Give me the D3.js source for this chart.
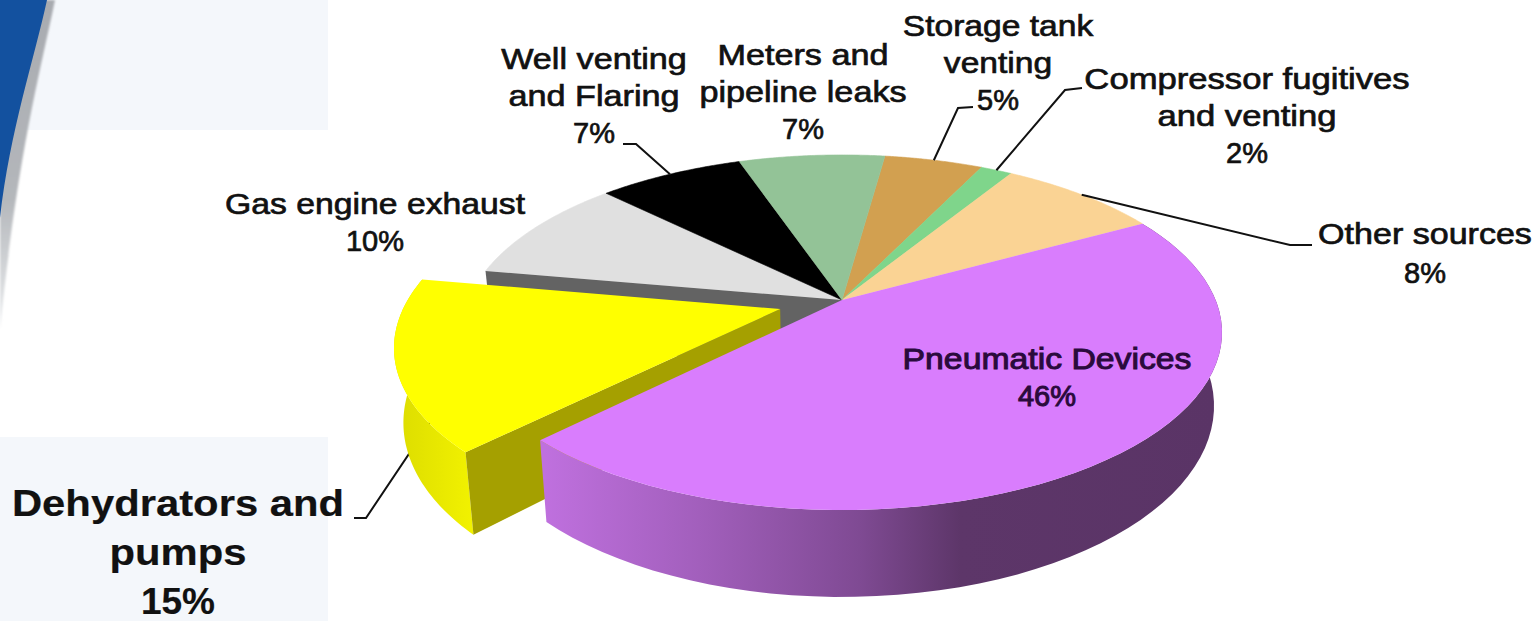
<!DOCTYPE html>
<html>
<head>
<meta charset="utf-8">
<style>
  html, body { margin: 0; padding: 0; background: #fff; overflow: hidden; }
  text { font-family: "Liberation Sans", Arial, sans-serif; text-anchor: middle; }
</style>
<script src="https://d3js.org/d3.v7.min.js"></script>
</head>
<body>
<svg id="chart" width="1538" height="621"></svg>
<script>
// shares, in drawing order clockwise from Storage tank round to Meters
var categories = ["Storage tank venting", "Compressor fugitives and venting", "Other sources",
  "Pneumatic Devices", "Dehydrators and pumps", "Gas engine exhaust", "Well venting and Flaring",
  "Meters and pipeline leaks"];
var shares = [5.0, 1.6, 8.2, 45.5, 15.4, 9.6, 7.4, 7.4];
var topColors = ["#d2a050", "#7fd58b", "#fad394", "#d97dfd", "#ffff00", "#e0e0e0", "#000000", "#93c397"];
var labelLines = [["Storage tank", "venting"], ["Compressor fugitives", "and venting"], ["Other sources"],
  ["Pneumatic Devices"], ["Dehydrators and", "pumps"], ["Gas engine exhaust"], ["Well venting", "and Flaring"],
  ["Meters and", "pipeline leaks"]];

var cx = 842, cy = 300, R = 373.6, ry = 171.6, k = 0.183, H = 71, taper = 0.021;
var startAngle = 7.8 * Math.PI / 180;
var explode = 0.172;

var svg = d3.select("#chart");
var defs = svg.append("defs");

// slide background
svg.append("rect").attr("x", 0).attr("y", 0).attr("width", 328).attr("height", 130).attr("fill", "#f4f7fb");
svg.append("rect").attr("x", 0).attr("y", 437).attr("width", 328).attr("height", 184).attr("fill", "#f4f7fb");
defs.append("filter").attr("id", "soft").append("feGaussianBlur").attr("stdDeviation", 1.3);
var edgeGrad = defs.append("linearGradient").attr("id", "swooshEdge").attr("x1", 0).attr("x2", 0).attr("y1", 0).attr("y2", 1);
edgeGrad.append("stop").attr("offset", 0).attr("stop-color", "#a8abb0");
edgeGrad.append("stop").attr("offset", 0.6).attr("stop-color", "#b4b7bb");
edgeGrad.append("stop").attr("offset", 1).attr("stop-color", "#eceef0");
svg.append("path").attr("d", "M0,0 L55,0 C42,65 18,150 0,330 Z").attr("fill", "url(#swooshEdge)").attr("filter", "url(#soft)");
svg.append("path").attr("d", "M0,0 L47,0 C34,60 10,130 0,218 Z").attr("fill", "#13519f");

var pie = d3.pie().value(function(d) { return d; }).sort(null)
  .startAngle(startAngle).endAngle(startAngle + 2 * Math.PI);
var arcs = pie(shares);

// projects a point of the pie plane (radius r, clockwise angle a from the back), at drop h
function project(a, r, h, off) {
  var X = r * Math.sin(a) + (off ? off[0] : 0);
  var Y = -r * Math.cos(a) + (off ? off[1] : 0);
  var s = 1 / (1 - k * Y);
  return [cx + R * X * s * (1 - taper * h / H), cy + (ry * Y + h) * s];
}

function rim(d, h, off) {
  return d3.range(0, 61).map(function(i) {
    return project(d.startAngle + (d.endAngle - d.startAngle) * i / 60, 1, h, off);
  });
}

var line = d3.line();
function topFace(d, off) {
  return line([project(0, 0, 0, off)].concat(rim(d, 0, off))) + "Z";
}
function outerWall(d, off) {
  return line(rim(d, 0, off).concat(rim(d, H, off).reverse())) + "Z";
}
function radialWall(a, off) {
  return line([project(a, 0, 0, off), project(a, 1, 0, off), project(a, 1, H, off), project(a, 0, H, off)]) + "Z";
}

var purpleGrad = defs.append("linearGradient").attr("id", "purpleWall").attr("gradientUnits", "userSpaceOnUse")
  .attr("x1", 545).attr("x2", 1215).attr("y1", 0).attr("y2", 0);
[[0, "#bf70de"], [0.23, "#a25fbc"], [0.47, "#7f4a93"], [0.62, "#5d3669"], [1, "#5a3466"]].forEach(function(s) {
  purpleGrad.append("stop").attr("offset", s[0]).attr("stop-color", s[1]);
});
var yellowGrad = defs.append("linearGradient").attr("id", "yellowWall").attr("x1", 0).attr("x2", 1).attr("y1", 0).attr("y2", 0);
yellowGrad.append("stop").attr("offset", 0).attr("stop-color", "#dcdc00");
yellowGrad.append("stop").attr("offset", 1).attr("stop-color", "#f2f200");

var iPurple = 3, iYellow = 4, iGray = 5;
function midAngle(d) { return (d.startAngle + d.endAngle) / 2; }
var mid = midAngle(arcs[iYellow]);
var yellowOff = [explode * Math.sin(mid), -explode * Math.cos(mid)];

// back slices first
arcs.forEach(function(d, i) {
  if (i === iPurple || i === iYellow) return;
  svg.append("path").attr("d", topFace(d)).attr("fill", topColors[i])
    .attr("stroke", topColors[i]).attr("stroke-width", 0.6);
});
svg.append("path").attr("d", radialWall(arcs[iGray].startAngle)).attr("fill", "#636363");

// leader of the pulled out slice runs behind it
function leader(pts) {
  svg.append("path").attr("d", line(pts)).attr("fill", "none").attr("stroke", "#111").attr("stroke-width", 2);
}
leader([[354, 518], [366, 518], project(mid, 0.8, 0, yellowOff)]);

svg.append("path").attr("d", outerWall(arcs[iYellow], yellowOff)).attr("fill", "url(#yellowWall)");
svg.append("path").attr("d", radialWall(arcs[iYellow].startAngle, yellowOff)).attr("fill", "#a5a000");
svg.append("path").attr("d", topFace(arcs[iYellow], yellowOff)).attr("fill", topColors[iYellow]);

svg.append("path").attr("d", outerWall(arcs[iPurple])).attr("fill", "url(#purpleWall)");
svg.append("path").attr("d", topFace(arcs[iPurple])).attr("fill", topColors[iPurple]);

// other leaders
leader([[623, 144], [636, 144], project(midAngle(arcs[6]), 1, 0)]);
leader([[973, 107], [958, 108], project(midAngle(arcs[0]), 1, 0)]);
leader([[1082, 88], [1065, 90], project(midAngle(arcs[1]), 1, 0)]);
leader([[1312, 245], [1290, 245], project(midAngle(arcs[2]), 1, 0)]);

// labels: first baseline, line step, size, sideways stretch of the name lines
var labelPos = [
  {x: 998, y: 36, step: 37, size: 30, wide: 1.12},
  {x: 1247, y: 89, step: 37, size: 30, wide: 1.155},
  {x: 1425, y: 244, step: 39, size: 30, wide: 1.135},
  {x: 1047, y: 369, step: 37, size: 30, wide: 1.125},
  {x: 178, y: 516, step: 49, size: 37, wide: 1.13},
  {x: 375, y: 214, step: 37, size: 30, wide: 1.125},
  {x: 594, y: 69, step: 37, size: 30, wide: 1.14},
  {x: 803, y: 65, step: 37, size: 30, wide: 1.14}
];
arcs.forEach(function(d, i) {
  var p = labelPos[i];
  var names = labelLines[i];
  var fill = i === iPurple ? "#2a0a3c" : "#111";
  names.concat([Math.round(d.data) + "%"]).forEach(function(s, j) {
    var sx = j < names.length ? p.wide : 1;
    svg.append("text")
      .attr("transform", "translate(" + p.x + "," + (p.y + j * p.step) + ") scale(" + sx + ",1)")
      .attr("font-size", j < names.length ? p.size : (i === iYellow ? 37 : 29))
      .attr("font-weight", i === iYellow ? 700 : 400)
      .attr("fill", fill).attr("stroke", fill)
      .attr("stroke-width", i === iYellow ? 0.2 : (i === iPurple ? 1 : 0.7))
      .text(s);
  });
});
</script>
</body>
</html>
